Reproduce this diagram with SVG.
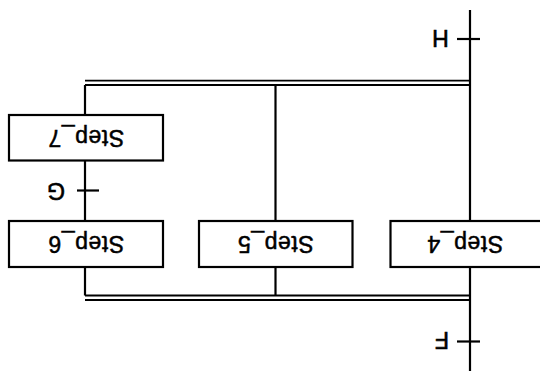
<svg xmlns="http://www.w3.org/2000/svg" width="540" height="371" viewBox="0 0 540 371">
<style>
.ln{stroke:#000;stroke-width:2.2;fill:none}
.dl{stroke:#000;stroke-width:1.8;fill:none}
.box{fill:#fff;stroke:#000;stroke-width:2.2}
.lbl{font-family:"Liberation Sans",Arial,sans-serif;font-size:23px;fill:#000;stroke:#000;stroke-width:0.5;text-anchor:middle;letter-spacing:0.6px}
.tr{font-family:"Liberation Sans",Arial,sans-serif;font-size:23px;fill:#000;stroke:#000;stroke-width:0.6;text-anchor:middle}
</style>
<rect width="540" height="371" fill="#fff"/>
<g transform="rotate(180 270 185.5)">
<g id="connectors">
<line class="ln" x1="70" y1="0" x2="70" y2="361"/>
<line class="dl" x1="70" y1="71" x2="455" y2="71"/>
<line class="dl" x1="70" y1="75.5" x2="455" y2="75.5"/>
<line class="dl" x1="70" y1="286" x2="455" y2="286"/>
<line class="dl" x1="70" y1="290.3" x2="455" y2="290.3"/>
<line class="ln" x1="264.5" y1="75.5" x2="264.5" y2="286"/>
<line class="ln" x1="455" y1="75.5" x2="455" y2="286"/>
<line class="ln" x1="60" y1="29.5" x2="83" y2="29.5"/>
<line class="ln" x1="60" y1="332" x2="83" y2="332"/>
<line class="ln" x1="441" y1="180.5" x2="463" y2="180.5"/>
<text class="tr" x="98" y="38.7">F</text>
<text class="tr" x="99.5" y="340.7">H</text>
<text class="tr" x="484" y="187.7">G</text>
</g>
<g id="step4"><rect class="box" x="-2" y="104" width="151.5" height="46"/><text class="lbl" x="75" y="135.2">Step_4</text></g>
<g id="step5"><rect class="box" x="187.5" y="104" width="153.5" height="46"/><text class="lbl" x="264.5" y="135.2">Step_5</text></g>
<g id="step6"><rect class="box" x="377" y="104" width="154" height="46"/><text class="lbl" x="454" y="135.2">Step_6</text></g>
<g id="step7"><rect class="box" x="377" y="210.5" width="154" height="45.5"/><text class="lbl" x="454" y="241.5">Step_7</text></g>
</g>
</svg>
